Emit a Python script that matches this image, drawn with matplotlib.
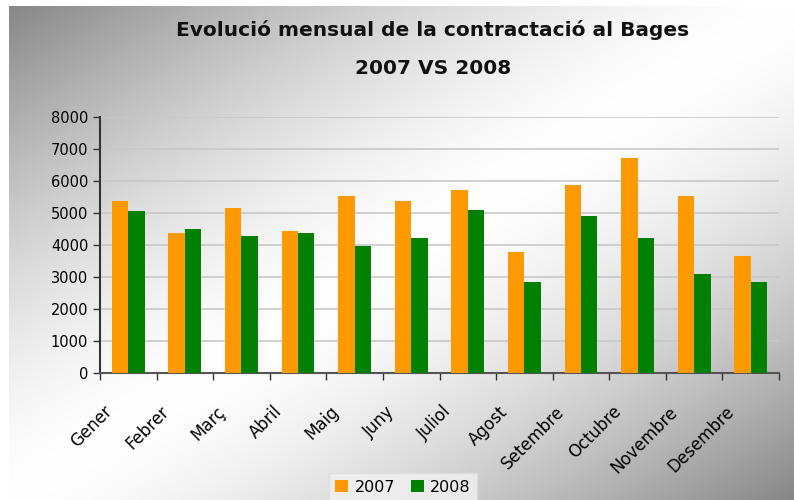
import matplotlib
matplotlib.use('Agg')
import matplotlib.pyplot as plt
import matplotlib.transforms as mtransforms
import numpy as np

months = ['Gener', 'Febrer', 'Març', 'Abril', 'Maig', 'Juny', 'Juliol',
          'Agost', 'Setembre', 'Octubre', 'Novembre', 'Desembre']
y2007 = [5380, 4380, 5160, 4440, 5540, 5380, 5720, 3790, 5880, 6720, 5540, 3660]
y2008 = [5070, 4500, 4290, 4380, 3970, 4220, 5100, 2850, 4910, 4220, 3100, 2850]
yticks = [0, 1000, 2000, 3000, 4000, 5000, 6000, 7000, 8000]

plt.rcParams['font.family'] = ['DejaVu Sans']

fig = plt.figure(figsize=(7.94, 5.00), dpi=100)
fig.patch.set_facecolor('white')

# diagonal background gradient: grey corners top-left / bottom-right, white middle
bg = fig.add_axes([9 / 794, 0, 1 - 9 / 794, 1 - 6 / 500], zorder=-10)
xx, yy = np.meshgrid(np.linspace(0, 1, 400), np.linspace(0, 1, 250))
t = (xx + yy) / 2
d = np.abs(t - 0.5) * 2
shade = 1 - 0.47 * d ** 1.5
shade = np.clip(shade, 0, 1)
bg.imshow(np.dstack([shade, shade, shade]), extent=[0, 1, 0, 1], aspect='auto')
bg.axis('off')

ax = fig.add_axes([100 / 794, 1 - 373 / 500, 679 / 794, 256 / 500])
ax.patch.set_alpha(0)

x = np.arange(len(months))
w = 0.29
ax.bar(x - w / 2, y2007, width=w, color='#ff9900', label='2007', zorder=3)
ax.bar(x + w / 2, y2008, width=w, color='#008000', label='2008', zorder=3)

ax.set_xlim(-0.5, len(months) - 0.5)
ax.set_ylim(0, 8000)
ax.set_yticks(yticks)
ax.set_yticklabels([str(v) for v in yticks], fontsize=10.5)
ax.yaxis.grid(True, color='#c8c8c8', linewidth=1.2, zorder=0)

ax.set_xticks(np.arange(len(months) + 1) - 0.5)
ax.set_xticklabels([])
ax.set_xticks(x, minor=True)
ax.set_xticklabels(months, minor=True, rotation=45, ha='right', va='center',
                   rotation_mode='anchor', fontsize=12)
ax.tick_params(axis='x', which='minor', length=0, pad=0)
ax.tick_params(axis='x', which='major', length=5, width=1, color='#333333')
ax.tick_params(axis='y', length=5, width=1, color='#333333')

shift = mtransforms.ScaledTranslation(-0.19, -0.36, fig.dpi_scale_trans)
for lab in ax.get_xticklabels(minor=True):
    lab.set_transform(lab.get_transform() + shift)

for s in ['top', 'right']:
    ax.spines[s].set_visible(False)
ax.spines['left'].set_color('#333333')
ax.spines['left'].set_linewidth(1.5)
ax.spines['bottom'].set_color('#555555')
ax.spines['bottom'].set_linewidth(1.5)

fig.text(0.545, 1 - 30 / 500, 'Evolució mensual de la contractació al Bages',
         ha='center', va='center', fontsize=14.5, fontweight='bold', color='#111111')
fig.text(0.545, 1 - 68 / 500, '2007 VS 2008',
         ha='center', va='center', fontsize=14.5, fontweight='bold', color='#111111')

leg = fig.legend(loc='center', bbox_to_anchor=(403 / 794, 1 - 487 / 500), ncol=2,
                 fontsize=11.5, frameon=True, fancybox=False, handlelength=0.8,
                 handleheight=0.8, handletextpad=0.4, columnspacing=1.0,
                 borderpad=0.4)
leg.get_frame().set_facecolor('#f2f2f2')
leg.get_frame().set_edgecolor('#dddddd')

fig.savefig('out.png', dpi=100)
